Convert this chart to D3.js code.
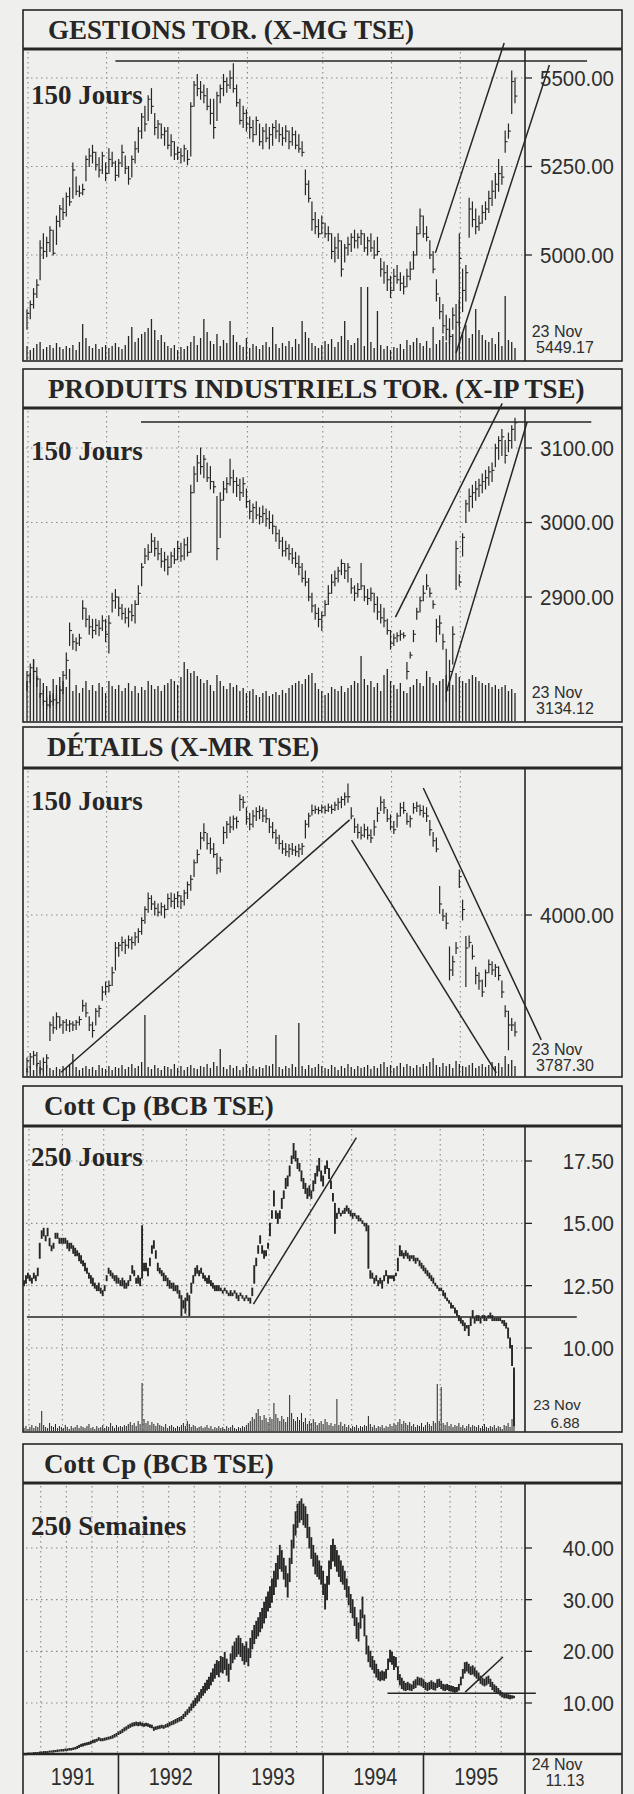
<!DOCTYPE html>
<html>
<head>
<meta charset="utf-8">
<script src="https://cdn.jsdelivr.net/npm/d3@7"></script>
<style>
  body { margin: 0; background: #efefed; }
</style>
</head>
<body>
<script>
// ---------- texts ----------
const titles = ["GESTIONS TOR. (X-MG TSE)", "PRODUITS INDUSTRIELS TOR. (X-IP TSE)", "DÉTAILS (X-MR TSE)", "Cott Cp (BCB TSE)", "Cott Cp (BCB TSE)"];
const periods = ["150 Jours", "150 Jours", "150 Jours", "250 Jours", "250 Semaines"];
const dates = ["23 Nov", "23 Nov", "23 Nov", "23 Nov", "24 Nov"];
const lastValues = ["5449.17", "3134.12", "3787.30", "6.88", "11.13"];
const years = ["1991", "1992", "1993", "1994", "1995"];
const yearBreaks = [48, 99, 152, 203];   // week index where a new year starts

// month / quarter grid positions (bar index)
const dayGrid150 = [0, 24, 46, 67, 90, 111, 132];
const dayGrid250 = [2, 19, 40, 60, 82, 101, 124, 145, 166, 188, 211, 233];
const weekGrid = [8, 21, 34, 47, 60, 73, 86, 99, 112, 125, 138, 151, 164, 177, 190, 203, 216, 229, 242];

// ---------- panel 1 : GESTIONS TOR. ----------
const p1Ticks = [5000, 5250, 5500];
const p1Low = [4790,4820,4850,4880,4930,4990,4995,5010,5000,5030,
5080,5100,5110,5140,5160,5170,5165,5170,5210,5250,
5260,5240,5220,5230,5210,5230,5250,5210,5220,5250,
5230,5200,5220,5260,5290,5330,5350,5380,5400,5340,
5330,5330,5310,5300,5280,5270,5270,5260,5265,5255,
5280,5420,5450,5440,5430,5410,5370,5330,5380,5430,
5450,5460,5470,5460,5420,5370,5360,5350,5330,5320,
5340,5310,5300,5320,5300,5310,5330,5320,5310,5320,
5300,5310,5300,5290,5280,5170,5150,5070,5060,5050,
5060,5050,5040,4990,4980,4990,4940,4980,5000,5010,
5020,5020,5030,5010,5000,5010,4990,5000,4940,4920,
4900,4880,4900,4920,4900,4890,4910,4930,4960,5000,
5060,5050,5040,4990,4950,4870,4820,4780,4760,4750,
4790,4800,4800,4840,4870,5050,5080,5060,5070,5090,
5100,5120,5140,5160,5180,5200,5290,5330,5400,5430];
const p1High = [4845,4870,4905,4930,5040,5060,5050,5080,5070,5110,
5140,5160,5175,5190,5260,5220,5195,5200,5280,5300,
5310,5290,5275,5290,5260,5300,5290,5265,5270,5310,
5280,5250,5280,5320,5360,5400,5420,5450,5470,5400,
5380,5370,5360,5360,5340,5320,5305,5300,5310,5295,
5430,5490,5510,5490,5480,5470,5440,5440,5460,5480,
5510,5500,5520,5540,5480,5440,5420,5410,5390,5380,
5390,5370,5360,5370,5360,5370,5380,5370,5360,5365,
5350,5360,5350,5340,5320,5240,5210,5150,5120,5100,
5110,5090,5080,5060,5050,5060,5040,5030,5050,5060,
5070,5060,5070,5060,5050,5060,5040,5050,4990,4980,
4970,4940,4960,4970,4950,4940,4960,4980,5010,5080,
5130,5110,5080,5040,5010,4930,4880,4860,4830,4820,
4850,4860,5060,4960,4970,5160,5150,5130,5110,5140,
5150,5180,5210,5230,5270,5250,5350,5370,5520,5500];
const p1Close = [4835,4860,4890,4915,5020,5010,5035,5070,5005,5095,
5130,5120,5165,5150,5240,5180,5175,5185,5270,5280,
5290,5255,5240,5280,5230,5270,5260,5225,5260,5290,
5245,5215,5270,5300,5350,5390,5370,5440,5420,5360,
5370,5340,5350,5310,5320,5285,5290,5280,5300,5270,
5420,5480,5470,5460,5450,5420,5400,5360,5450,5470,
5490,5480,5500,5470,5430,5380,5400,5370,5360,5340,
5380,5320,5350,5330,5340,5360,5350,5340,5330,5350,
5320,5340,5310,5300,5290,5200,5160,5100,5080,5060,
5090,5060,5060,5010,5020,5040,4960,5020,5030,5050,
5040,5050,5060,5020,5040,5020,5000,5010,4960,4950,
4930,4900,4940,4930,4920,4910,4940,4960,5000,5060,
5110,5060,5050,5000,4960,4890,4840,4800,4790,4770,
4830,4810,4990,4900,4950,5130,5100,5080,5090,5120,
5130,5160,5180,5200,5230,5220,5320,5350,5490,5449];
const p1Vol = [14,10,12,16,18,11,13,15,12,17,
13,11,14,12,15,10,18,36,22,14,
12,16,11,13,15,12,14,17,13,11,
15,24,33,18,22,26,28,32,41,30,
20,25,18,14,12,15,10,13,11,14,
18,24,15,22,41,28,19,16,26,14,
20,17,39,25,18,15,13,22,12,16,
14,11,15,18,13,33,16,12,17,14,
19,13,21,16,39,28,22,17,14,12,
15,19,16,21,13,18,24,39,20,15,
17,22,73,14,73,18,12,49,15,11,
14,10,13,12,16,11,20,15,18,22,
17,14,19,12,33,16,20,24,18,30,
26,34,60,28,35,22,26,51,30,25,
20,18,22,16,28,14,64,20,18,12];
const p1Trends = [[[27, 5548], [171, 5548]], [[124.7, 5006], [145.7, 5599]], [[131, 4723], [159.5, 5537]]];

// ---------- panel 2 : PRODUITS INDUSTRIELS ----------
const p2Ticks = [2900, 3000, 3100];
const p2Low = [2775,2785,2790,2780,2765,2755,2750,2752,2755,2750,
2760,2770,2790,2835,2830,2828,2835,2870,2860,2850,
2845,2850,2848,2855,2840,2825,2880,2885,2875,2870,
2865,2860,2868,2865,2890,2915,2945,2950,2960,2955,
2950,2940,2935,2930,2940,2945,2950,2948,2950,2955,
2960,3040,3055,3065,3060,3055,3045,3040,2950,2980,
3030,3040,3050,3040,3035,3030,3035,3020,3005,3000,
3005,2998,3000,2995,2992,2985,2975,2965,2955,2955,
2950,2945,2940,2930,2920,2915,2895,2880,2870,2860,
2855,2875,2890,2905,2915,2920,2930,2925,2920,2905,
2895,2900,2910,2895,2890,2895,2880,2870,2865,2860,
2850,2830,2835,2840,2842,2845,2790,2818,2840,2870,
2880,2895,2910,2900,2885,2840,2850,2830,2760,2775,
2810,2910,2915,2955,3000,3015,3020,3030,3035,3040,
3045,3050,3055,3075,3085,3090,3080,3095,3100,3110];
const p2High = [2800,2810,2815,2805,2790,2775,2765,2768,2770,2768,
2780,2800,2825,2865,2850,2845,2850,2895,2885,2875,
2870,2870,2868,2875,2870,2875,2905,2910,2900,2890,
2885,2885,2890,2895,2915,2945,2965,2970,2985,2980,
2975,2965,2960,2955,2960,2965,2975,2972,2978,2980,
3050,3075,3090,3100,3090,3080,3075,3055,3035,3040,
3055,3060,3085,3070,3060,3058,3060,3045,3030,3025,
3028,3020,3022,3018,3015,3010,2995,2990,2980,2975,
2970,2965,2960,2955,2945,2935,2925,2905,2890,2885,
2880,2895,2915,2930,2935,2940,2950,2945,2945,2925,
2915,2918,2945,2915,2910,2912,2905,2900,2890,2885,
2870,2855,2850,2852,2855,2852,2812,2826,2855,2885,
2900,2915,2930,2912,2895,2870,2875,2850,2830,2815,
2860,2975,2930,2985,3030,3045,3050,3055,3058,3065,
3070,3075,3080,3105,3115,3125,3110,3120,3130,3140];
const p2Close = [2795,2805,2800,2790,2770,2760,2755,2760,2762,2758,
2775,2795,2815,2855,2840,2838,2845,2885,2870,2860,
2855,2862,2858,2868,2850,2865,2895,2900,2885,2878,
2872,2880,2875,2890,2905,2940,2955,2960,2975,2965,
2958,2948,2950,2940,2955,2950,2965,2955,2970,2960,
3040,3065,3080,3075,3085,3060,3055,3048,2965,3030,
3045,3052,3060,3055,3050,3040,3052,3028,3015,3020,
3010,3008,3012,3005,3000,2995,2985,2975,2962,2965,
2958,2952,2945,2940,2925,2920,2900,2888,2878,2870,
2875,2890,2905,2920,2925,2935,2945,2935,2940,2912,
2905,2910,2915,2900,2898,2905,2890,2880,2872,2868,
2855,2838,2845,2848,2850,2848,2800,2822,2850,2880,
2895,2905,2915,2905,2890,2860,2865,2840,2775,2800,
2850,2965,2920,2980,3025,3035,3040,3045,3050,3055,
3060,3068,3070,3100,3110,3115,3090,3110,3125,3134];
const p2Vol = [40,48,62,45,28,38,35,30,42,36,
44,40,34,52,30,36,28,33,40,31,
36,30,38,34,28,40,35,32,36,30,
33,38,30,35,28,34,31,40,36,32,
35,30,36,38,42,40,36,44,59,52,
48,50,45,42,38,41,36,30,46,40,
35,32,38,34,36,30,33,28,30,32,
26,24,28,30,25,27,29,26,31,28,
33,36,38,40,37,42,46,48,38,32,
30,26,28,34,32,30,35,29,33,36,
40,38,65,42,36,40,34,38,30,46,
52,40,36,32,38,30,28,34,36,42,
38,35,50,44,38,36,40,42,46,40,
36,48,44,40,38,42,46,44,40,38,
36,38,34,36,32,34,36,30,32,28];
const p2Trends = [[[34.8, 3135], [172.3, 3135]], [[112.5, 2873], [145.1, 3160]], [[128, 2772], [152.7, 3135]]];

// ---------- panel 3 : DÉTAILS ----------
const p3Ticks = [4000];
const p3Low = [3715,3722,3728,3725,3712,3716,3722,3772,3785,3792,
3795,3785,3790,3788,3790,3792,3800,3825,3815,3790,
3778,3800,3815,3845,3855,3860,3872,3900,3925,3935,
3930,3940,3938,3945,3950,3965,3985,4005,4010,4000,
3998,4000,3995,4010,4015,4012,4015,4012,4018,4030,
4045,4070,4095,4120,4135,4120,4112,4105,4075,4078,
4130,4140,4150,4155,4158,4190,4195,4165,4155,4160,
4172,4175,4170,4168,4150,4140,4130,4120,4112,4108,
4106,4110,4108,4106,4110,4140,4160,4182,4185,4184,
4186,4185,4188,4185,4190,4192,4195,4200,4205,4175,
4150,4140,4138,4142,4138,4132,4145,4170,4190,4185,
4170,4155,4148,4160,4180,4185,4165,4160,4185,4188,
4182,4178,4170,4145,4125,4115,4003,3990,3975,3882,
3890,3930,4050,3991,3870,3942,3920,3875,3865,3852,
3870,3895,3892,3888,3882,3850,3815,3755,3790,3780];
const p3High = [3740,3748,3752,3750,3735,3740,3746,3805,3815,3822,
3815,3808,3810,3808,3806,3808,3815,3845,3840,3815,
3805,3830,3835,3870,3878,3880,3905,3950,3950,3960,
3955,3962,3960,3968,3975,3995,4015,4040,4035,4025,
4020,4022,4018,4038,4040,4038,4042,4035,4045,4060,
4072,4100,4118,4150,4166,4148,4140,4130,4112,4105,
4160,4170,4178,4180,4178,4218,4215,4195,4185,4190,
4195,4198,4195,4192,4175,4168,4155,4145,4135,4130,
4128,4130,4125,4128,4130,4172,4185,4200,4198,4196,
4200,4198,4202,4200,4205,4212,4215,4222,4238,4195,
4175,4165,4160,4165,4160,4155,4172,4195,4215,4210,
4192,4182,4170,4185,4203,4205,4185,4180,4203,4205,
4200,4198,4195,4172,4150,4140,4052,4010,4003,3942,
3925,3950,4082,4027,3961,3962,3945,3905,3895,3882,
3900,3918,3915,3910,3906,3880,3835,3825,3812,3805];
const p3Close = [3735,3742,3745,3730,3720,3732,3740,3800,3795,3815,
3800,3805,3800,3802,3800,3805,3810,3835,3822,3800,
3790,3825,3830,3860,3870,3872,3895,3940,3945,3950,
3945,3955,3950,3960,3970,3990,4010,4030,4020,4012,
4005,4015,4010,4030,4025,4030,4035,4025,4040,4055,
4065,4095,4110,4140,4150,4130,4120,4110,4085,4100,
4150,4165,4160,4175,4170,4210,4205,4175,4165,4180,
4188,4190,4180,4175,4160,4150,4140,4130,4120,4115,
4120,4118,4115,4120,4125,4165,4180,4190,4192,4190,
4195,4190,4196,4192,4200,4205,4210,4215,4215,4180,
4160,4150,4145,4155,4145,4140,4160,4185,4205,4195,
4175,4160,4155,4180,4195,4190,4170,4175,4195,4198,
4190,4185,4180,4155,4135,4120,4020,3998,3985,3900,
3915,3940,4070,4010,3940,3950,3925,3890,3880,3860,
3895,3910,3900,3905,3890,3860,3825,3800,3800,3787.3];
const p3Vol = [8,10,6,12,9,7,11,8,6,9,
7,10,8,12,22,9,6,8,10,7,
9,6,11,8,7,10,6,9,8,11,
7,9,12,8,10,14,61,9,7,11,
8,6,10,9,7,12,8,10,6,9,
11,8,7,10,9,12,8,14,10,27,
9,7,11,8,10,6,9,12,8,10,
7,9,8,11,10,12,41,9,7,10,
8,12,9,53,10,7,11,8,9,12,
10,8,7,11,9,6,10,8,12,9,
7,10,8,9,11,7,10,8,12,14,
9,11,8,10,13,9,12,10,8,11,
9,12,10,14,18,11,9,13,10,12,
8,15,12,10,9,11,13,8,10,12,
9,11,14,10,13,9,20,12,16,10];
const p3Trends = [[[10.4, 3714], [98.5, 4173]], [[99.1, 4136], [143.3, 3713]], [[121, 4231], [157, 3773]]];

// ---------- panel 4 : Cott Cp, 250 jours ----------
const p4Ticks = [10, 12.5, 15, 17.5];
const p4Low = [12.5,12.6,12.8,12.7,12.6,12.8,12.7,12.9,13.6,14.4,
14.5,14.3,14.5,14.1,13.9,14.0,14.4,14.4,14.2,14.2,
14.2,14.2,14.0,13.9,14.0,13.8,13.7,13.7,13.5,13.4,
13.3,13.1,13.0,12.8,12.6,12.5,12.4,12.3,12.3,12.2,
12.1,12.3,12.7,13.0,12.9,12.8,12.7,12.6,12.6,12.5,
12.5,12.4,12.4,12.5,12.7,13.0,12.9,12.6,12.6,12.5,
12.8,13.1,13.1,12.9,13.3,13.8,14.0,13.6,13.1,13.0,
12.9,12.7,12.7,12.5,12.4,12.4,12.3,12.3,12.2,12.0,
11.3,11.6,11.4,11.9,11.3,12.2,12.6,12.9,13.0,12.9,
13.0,12.8,12.7,12.6,12.6,12.5,12.4,12.3,12.3,12.3,
12.3,12.2,12.3,12.2,12.1,12.1,12.1,12.2,12.0,11.9,
12.1,12.0,11.9,12.0,11.9,11.8,12.1,12.6,13.3,13.8,
14.2,13.8,13.6,13.7,14.0,14.5,15.2,15.7,15.2,15.0,
15.2,15.6,16.0,16.4,16.5,16.9,17.4,17.6,17.5,17.2,
17.1,16.7,16.4,16.2,16.0,16.1,16.0,16.3,16.6,16.9,
17.1,16.7,16.5,17.0,17.2,16.8,16.4,15.9,14.6,15.2,
15.4,15.3,15.4,15.4,15.5,15.4,15.3,15.2,15.3,15.2,
15.1,15.1,15.0,14.9,14.7,13.2,12.8,12.8,12.6,12.7,
12.5,12.6,12.4,12.7,12.9,12.6,12.8,12.8,12.7,12.9,
13.1,13.7,13.7,13.6,13.7,13.6,13.5,13.6,13.5,13.4,
13.5,13.3,13.2,13.1,13.0,12.9,12.8,12.7,12.6,12.5,
12.4,12.3,12.3,12.1,12.0,11.9,11.8,11.6,11.6,11.4,
11.3,11.1,11.0,10.9,10.7,10.8,10.5,10.9,11.2,11.0,
11.1,11.1,11.0,11.2,11.1,11.1,11.2,11.2,11.1,11.1,
11.1,11.1,11.1,11.0,10.9,10.8,10.4,10.0,9.3,6.88];
const p4High = [12.7,12.9,13.0,12.9,12.8,13.0,12.9,13.2,14.2,14.7,
14.8,14.5,14.8,14.4,14.1,14.2,14.6,14.6,14.4,14.4,
14.4,14.4,14.3,14.2,14.2,14.1,14.0,13.9,13.8,13.7,
13.5,13.4,13.2,13.0,12.9,12.8,12.6,12.5,12.6,12.4,
12.3,12.5,12.9,13.2,13.1,13.0,12.9,12.9,12.8,12.7,
12.8,12.7,12.6,12.7,12.9,13.3,13.1,12.8,12.9,12.8,
14.9,13.4,13.4,13.2,13.6,14.1,14.3,13.9,13.4,13.2,
13.1,13.0,12.9,12.8,12.7,12.6,12.6,12.5,12.5,12.3,
12.1,11.9,12.0,12.2,12.1,12.6,12.9,13.2,13.3,13.1,
13.2,13.0,12.9,12.8,12.9,12.7,12.6,12.5,12.5,12.5,
12.4,12.3,12.4,12.3,12.2,12.3,12.2,12.3,12.2,12.1,
12.2,12.1,12.0,12.1,12.0,12.0,12.4,13.3,13.6,14.1,
14.5,14.1,13.9,13.9,14.2,15.0,15.5,16.3,15.5,15.4,
15.5,16.0,16.3,16.8,16.9,17.3,17.7,18.2,17.9,17.6,
17.4,17.1,16.8,16.6,16.4,16.5,16.3,16.7,17.0,17.3,
17.6,17.1,16.9,17.3,17.5,17.2,16.7,16.2,15.8,15.4,
15.6,15.4,15.5,15.6,15.7,15.6,15.5,15.4,15.4,15.3,
15.3,15.2,15.1,15.0,15.0,14.9,13.1,13.0,12.8,12.9,
12.7,12.8,12.7,12.9,13.1,12.9,12.9,12.9,12.9,13.0,
13.6,14.1,13.9,13.8,13.9,13.8,13.7,13.7,13.7,13.6,
13.6,13.5,13.4,13.3,13.2,13.1,13.0,12.9,12.8,12.6,
12.5,12.4,12.4,12.3,12.2,12.0,11.9,11.8,11.7,11.6,
11.5,11.3,11.2,11.1,11.0,10.9,10.9,11.2,11.5,11.2,
11.3,11.3,11.2,11.3,11.3,11.2,11.3,11.4,11.3,11.2,
11.2,11.2,11.2,11.1,11.1,11.0,10.8,10.4,10.1,9.2];
const p4Vol = [3,5,2,4,6,3,5,4,8,20,
6,4,3,8,5,4,7,3,5,4,
3,6,4,2,5,3,4,6,3,5,
4,3,5,7,3,4,2,5,3,4,
6,3,5,4,8,5,3,6,4,5,
4,6,5,7,9,6,8,5,10,7,
48,12,8,10,6,9,7,5,8,6,
5,4,7,3,5,6,4,3,5,4,
6,8,5,10,7,4,6,5,3,4,
5,3,4,6,3,5,2,4,3,5,
3,4,2,5,3,4,6,3,2,4,
3,5,4,6,8,10,14,12,18,22,
15,11,16,13,9,14,12,28,17,13,
10,15,12,9,14,36,18,12,10,14,
11,18,9,13,7,10,8,12,9,6,
8,10,7,12,9,6,8,5,7,32,
6,9,5,7,4,6,3,5,4,6,
3,5,4,6,5,15,7,4,6,3,
5,4,6,3,5,4,7,5,8,6,
9,12,7,10,8,6,9,5,7,4,
6,5,8,4,6,9,7,5,10,8,
47,10,44,8,6,9,5,7,4,6,
5,8,4,6,3,5,7,4,6,5,
4,6,3,5,7,4,3,5,4,6,
3,5,4,2,6,5,8,4,12,57];
const p4Trends = [[[1.5, 11.24], [280.9, 11.24]], [[116.6, 11.76], [168.9, 18.44]]];

// ---------- panel 5 : Cott Cp, 250 semaines ----------
const p5Ticks = [10, 20, 30, 40];
const p5Low = [0.0,0.0,0.1,0.1,0.1,0.2,0.2,0.2,0.3,0.3,
0.3,0.4,0.4,0.5,0.5,0.5,0.6,0.6,0.7,0.7,
0.7,0.8,0.8,0.9,0.9,1.0,1.1,1.2,1.4,1.6,
1.7,1.8,1.9,2.0,2.1,2.3,2.4,2.6,2.8,2.7,
2.7,2.8,2.9,3.0,3.1,3.2,3.4,3.6,3.9,4.1,
4.3,4.6,4.8,5.1,5.3,5.5,5.6,5.7,5.6,5.7,
5.6,5.5,5.6,5.5,5.3,5.2,4.7,4.9,5.0,5.1,
5.2,5.1,5.3,5.4,5.6,5.8,5.9,6.1,6.3,6.5,
6.6,7.0,7.4,7.8,8.2,8.6,9.1,9.5,10.0,10.4,
11.0,11.5,12.0,12.5,12.8,13.5,14.2,14.8,15.5,15.1,
16.0,15.8,16.5,15.4,14.2,16.5,17.8,18.5,19.0,19.5,
19.0,18.2,17.5,18.0,17.2,18.8,20.5,21.5,22.5,23.0,
23.8,24.5,25.5,26.5,27.8,28.5,29.5,31.0,32.5,34.0,
36.0,35.5,34.0,32.5,30.5,33.5,37.0,40.0,42.5,44.0,
45.0,45.5,44.5,44.0,42.0,40.0,38.0,36.5,35.0,34.5,
34.0,33.0,31.0,28.2,30.0,33.0,36.0,37.5,36.5,35.5,
34.5,33.5,33.0,32.0,30.5,29.0,27.5,26.5,25.0,22.5,
22.0,24.5,26.5,23.0,19.5,18.0,17.0,16.5,15.8,15.0,
14.5,14.3,14.5,14.4,14.8,16.5,18.0,17.5,16.5,17.0,
14.5,13.5,12.8,12.5,12.4,12.6,12.5,12.4,12.8,13.0,
13.5,13.5,13.3,13.0,12.6,12.4,12.6,12.8,12.6,12.5,
13.0,13.2,12.8,12.5,12.4,12.6,12.4,12.3,12.2,12.1,
12.2,12.5,13.5,14.8,15.8,16.2,15.8,15.5,15.6,15.2,
14.8,14.4,13.8,13.5,13.3,13.5,13.8,13.2,12.6,12.2,
12.0,11.8,11.5,11.2,11.0,11.0,10.9,10.8,10.9,11.0];
const p5High = [0.2,0.2,0.3,0.3,0.3,0.4,0.4,0.4,0.5,0.5,
0.6,0.6,0.6,0.7,0.7,0.8,0.8,0.9,0.9,1.0,
1.0,1.1,1.1,1.2,1.2,1.3,1.4,1.6,1.8,2.0,
2.1,2.2,2.3,2.4,2.6,2.8,2.9,3.0,3.3,3.1,
3.1,3.2,3.3,3.4,3.5,3.7,3.9,4.1,4.4,4.6,
4.9,5.2,5.4,5.7,5.9,6.1,6.2,6.3,6.2,6.3,
6.1,6.0,6.1,6.0,5.8,5.7,5.3,5.4,5.5,5.6,
5.7,5.6,5.8,6.0,6.2,6.4,6.6,6.8,7.0,7.2,
7.4,7.8,8.3,8.7,9.2,9.8,10.4,10.9,11.4,12.0,
12.6,13.2,13.8,14.4,15.0,15.8,16.6,17.5,18.2,18.0,
19.0,18.8,19.8,18.5,17.5,19.5,21.0,21.8,22.5,23.0,
22.5,21.5,21.0,21.8,20.5,22.5,24.0,25.0,25.8,26.5,
27.5,28.3,29.5,30.5,31.5,32.5,34.0,35.5,37.0,38.5,
40.5,39.5,38.0,36.5,35.0,38.0,41.5,44.5,47.0,48.5,
49.0,49.5,48.5,48.0,46.5,44.0,42.0,40.5,39.0,38.5,
37.5,36.5,35.5,33.0,34.5,37.5,40.5,41.7,40.5,39.5,
38.5,37.5,36.5,35.5,34.0,32.5,31.0,30.0,28.5,26.5,
25.5,28.0,30.5,27.0,23.0,21.0,20.0,19.0,18.2,17.5,
16.5,16.0,16.2,16.0,16.5,18.5,20.2,19.8,19.0,18.8,
17.0,15.5,14.8,14.2,13.8,14.0,13.7,13.5,14.2,14.5,
15.0,14.8,14.8,14.5,14.0,13.8,14.0,14.3,14.0,13.8,
14.5,14.6,14.2,13.6,13.5,13.6,13.4,13.3,13.2,13.0,
13.0,13.6,15.0,16.5,17.8,17.9,17.5,17.0,17.2,16.8,
16.2,15.8,15.2,14.8,14.6,15.0,15.2,14.6,14.0,13.5,
13.2,12.8,12.4,12.0,11.8,11.7,11.6,11.5,11.4,11.3];
const p5Trends = [[[184.7, 11.9], [260.1, 11.9]], [[224.2, 12.1], [243.4, 18.9]]];

// ---------- layout ----------
const W = 634, H = 1794;
const frameL = 23, frameR = 622, axisX = 525;
const ink = "#262626", dotInk = "#8a8a8a";
const serif = "'Liberation Serif', 'Times New Roman', serif";
const sans = "'Liberation Sans', Arial, sans-serif";

const volScale = bottom => d3.scaleLinear().domain([0, 100]).range([bottom - 1, bottom - 101]);

const panels = [
  { top: 10, head: 49, bottom: 361, periodY: 104, titleX: 48,
    x: d3.scaleLinear().domain([0, 149]).range([27, 515]),
    y: d3.scaleLinear().domain([5000, 5500]).range([255, 78]),
    low: p1Low, high: p1High, close: p1Close, vol: p1Vol, ticks: p1Ticks, grid: dayGrid150, trends: p1Trends,
    dateY: 337, lastY: 353 },
  { top: 369, head: 408, bottom: 722, periodY: 460, titleX: 48,
    x: d3.scaleLinear().domain([0, 149]).range([27, 515]),
    y: d3.scaleLinear().domain([2900, 3100]).range([597, 448]),
    low: p2Low, high: p2High, close: p2Close, vol: p2Vol, ticks: p2Ticks, grid: dayGrid150, trends: p2Trends,
    dateY: 698, lastY: 714 },
  { top: 727, head: 768, bottom: 1077, periodY: 810, titleX: 47,
    x: d3.scaleLinear().domain([0, 149]).range([27, 515]),
    y: d3.scaleLinear().domain([3800, 4000]).range([1025, 915]),
    low: p3Low, high: p3High, close: p3Close, vol: p3Vol, ticks: p3Ticks, grid: dayGrid150, trends: p3Trends,
    dateY: 1055, lastY: 1071 },
  { top: 1086, head: 1126, bottom: 1432, periodY: 1166, titleX: 44,
    x: d3.scaleLinear().domain([0, 249]).range([24, 514]),
    y: d3.scaleLinear().domain([10, 17.5]).range([1348, 1161]),
    low: p4Low, high: p4High, close: null, vol: p4Vol, ticks: p4Ticks, grid: dayGrid250, trends: p4Trends,
    dateY: 1410, lastY: 1428 },
  { top: 1444, head: 1483, bottom: 1754, periodY: 1535, titleX: 44,
    x: d3.scaleLinear().domain([0, 249]).range([24, 514]),
    y: d3.scaleLinear().domain([10, 40]).range([1703, 1548]),
    low: p5Low, high: p5High, close: null, vol: null, ticks: p5Ticks, grid: weekGrid, trends: p5Trends,
    dateY: 1770, lastY: 1786 }
];

const svg = d3.select("body").append("svg")
  .attr("width", W).attr("height", H)
  .style("display", "block");

svg.append("rect").attr("width", W).attr("height", H).attr("fill", "#efefed");

function condense(sel, k) {
  sel.each(function () {
    const w = this.getComputedTextLength();
    d3.select(this).attr("textLength", w * k).attr("lengthAdjust", "spacingAndGlyphs");
  });
}

panels.forEach((p, k) => {
  const g = svg.append("g");
  const x = p.x, y = p.y;
  const n = p.low.length;
  const dense = n > 200;

  // dotted grid
  g.selectAll(".hgrid").data(p.ticks).join("line")
    .attr("x1", frameL + 3).attr("x2", axisX)
    .attr("y1", d => y(d)).attr("y2", d => y(d))
    .attr("stroke", dotInk).attr("stroke-width", 1.1).attr("stroke-dasharray", "1.5,3.5");
  g.selectAll(".vgrid").data(p.grid).join("line")
    .attr("x1", d => x(d) + 1).attr("x2", d => x(d) + 1)
    .attr("y1", p.head + 3).attr("y2", p.bottom)
    .attr("stroke", dotInk).attr("stroke-width", 1.1).attr("stroke-dasharray", "1.5,3.5");

  // volume
  if (p.vol) {
    const v = volScale(p.bottom);
    g.selectAll(".vol").data(p.vol).join("line")
      .attr("x1", (d, i) => x(i)).attr("x2", (d, i) => x(i))
      .attr("y1", v(0)).attr("y2", d => v(d))
      .attr("stroke", ink).attr("stroke-width", dense ? 1 : 1.3);
  }

  // price bars
  g.selectAll(".bar").data(d3.range(n)).join("line")
    .attr("x1", i => x(i)).attr("x2", i => x(i))
    .attr("y1", i => y(p.high[i]) - 0.5).attr("y2", i => y(p.low[i]) + 0.5)
    .attr("stroke", ink).attr("stroke-width", dense ? 1.9 : 1.2);
  if (p.close) {
    g.selectAll(".cls").data(d3.range(n)).join("line")
      .attr("x1", i => x(i)).attr("x2", i => x(i) + 2.4)
      .attr("y1", i => y(p.close[i])).attr("y2", i => y(p.close[i]))
      .attr("stroke", ink).attr("stroke-width", 1.1);
  }

  // trend lines
  g.selectAll(".trend").data(p.trends).join("line")
    .attr("x1", d => x(d[0][0])).attr("y1", d => y(d[0][1]))
    .attr("x2", d => x(d[1][0])).attr("y2", d => y(d[1][1]))
    .attr("stroke", ink).attr("stroke-width", 1.5);

  // frame
  const frameBottom = k === 4 ? H + 5 : p.bottom;
  g.append("rect")
    .attr("x", frameL).attr("y", p.top)
    .attr("width", frameR - frameL).attr("height", frameBottom - p.top)
    .attr("fill", "none").attr("stroke", ink).attr("stroke-width", 1.6);
  g.append("line")
    .attr("x1", frameL).attr("x2", frameR).attr("y1", p.head).attr("y2", p.head)
    .attr("stroke", ink).attr("stroke-width", 3);
  g.append("line")
    .attr("x1", axisX).attr("x2", axisX).attr("y1", p.head).attr("y2", frameBottom)
    .attr("stroke", ink).attr("stroke-width", 1.6);

  // right axis
  g.selectAll(".tick").data(p.ticks).join("line")
    .attr("x1", axisX).attr("x2", axisX + 7)
    .attr("y1", d => y(d)).attr("y2", d => y(d))
    .attr("stroke", ink).attr("stroke-width", 1.3);
  const lab = g.selectAll(".tlab").data(p.ticks).join("text")
    .attr("x", 614).attr("y", d => y(d)).attr("dy", "0.36em")
    .attr("text-anchor", "end")
    .attr("font-family", sans).attr("font-size", 22).attr("fill", "#2e2e2e")
    .text(d => d3.format(".2f")(d));
  condense(lab, 0.93);

  // titles
  g.append("text")
    .attr("x", p.titleX).attr("y", p.top + 29)
    .attr("font-family", serif).attr("font-weight", "bold").attr("font-size", 27).attr("fill", ink)
    .text(titles[k]);
  g.append("text")
    .attr("x", 31).attr("y", p.periodY)
    .attr("font-family", serif).attr("font-weight", "bold").attr("font-size", 27).attr("fill", ink)
    .text(periods[k]);

  // last date / value
  const fs = k === 3 ? 15 : 16;
  g.append("text")
    .attr("x", 557).attr("y", p.dateY).attr("text-anchor", "middle")
    .attr("font-family", sans).attr("font-size", fs).attr("fill", "#2e2e2e")
    .text(dates[k]);
  g.append("text")
    .attr("x", 565).attr("y", p.lastY).attr("text-anchor", "middle")
    .attr("font-family", sans).attr("font-size", fs).attr("fill", "#2e2e2e")
    .text(lastValues[k]);
});

// year row under the weekly panel
const wk = panels[4];
const yearEdges = [frameL].concat(yearBreaks.map(d => wk.x(d)), [axisX]);
svg.append("line")
  .attr("x1", frameL).attr("x2", frameR).attr("y1", wk.bottom).attr("y2", wk.bottom)
  .attr("stroke", ink).attr("stroke-width", 2.5);
svg.selectAll(".ybreak").data(yearBreaks).join("line")
  .attr("x1", d => wk.x(d)).attr("x2", d => wk.x(d))
  .attr("y1", wk.bottom).attr("y2", H)
  .attr("stroke", ink).attr("stroke-width", 1.6);
const ylab = svg.selectAll(".ylab").data(years).join("text")
  .attr("x", (d, i) => (yearEdges[i] + yearEdges[i + 1]) / 2 + 2)
  .attr("y", 1785).attr("text-anchor", "middle")
  .attr("font-family", sans).attr("font-size", 23).attr("fill", "#2e2e2e")
  .text(d => d);
condense(ylab, 0.86);
</script>
</body>
</html>
